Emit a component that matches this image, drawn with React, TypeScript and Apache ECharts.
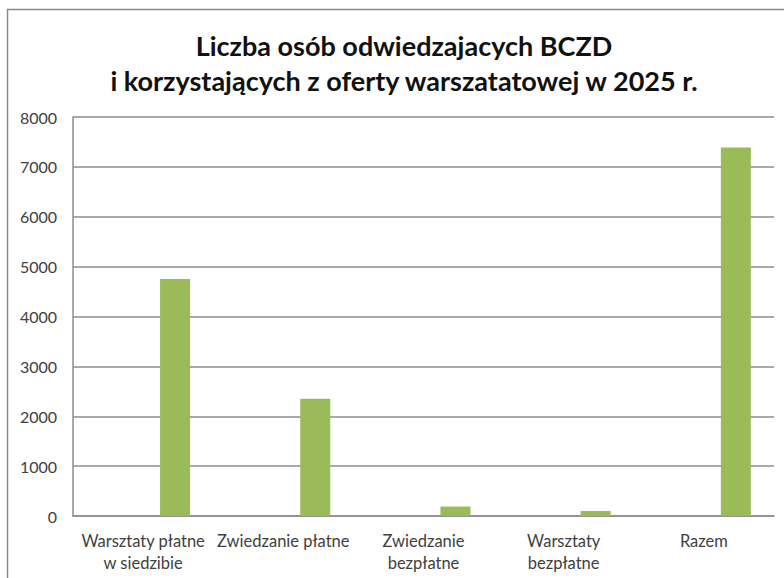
import React, { useEffect, useRef } from "react";
import * as echarts from "echarts";

const categories = [
  "Warsztaty płatne\nw siedzibie",
  "Zwiedzanie płatne",
  "Zwiedzanie\nbezpłatne",
  "Warsztaty\nbezpłatne",
  "Razem",
];
const emptySeries = ["-", "-", "-", "-", "-"];
const visitors = [4750, 2350, 190, 100, 7390];
const titleText = "Liczba osób odwiedzajacych BCZD\ni korzystających z oferty warszatatowej w 2025 r.";

export default function App() {
  const ref = useRef<HTMLDivElement>(null);
  useEffect(() => {
    document.body.style.margin = "0";
    const chart = echarts.init(ref.current!, null, { renderer: "svg" });
    chart.setOption({
      animation: false,
      backgroundColor: "#ffffff",
      textStyle: { fontFamily: "Lato" },
      graphic: [
        {
          type: "rect",
          shape: { x: 7.5, y: 9.5, width: 900, height: 700 },
          style: { fill: "none", stroke: "#8a8a8a", lineWidth: 1.5 },
          silent: true,
        },
      ],
      title: {
        text: titleText,
        left: 399,
        textAlign: "center",
        top: 23,
        textStyle: {
          fontFamily: "Lato",
          fontSize: 27,
          fontWeight: "bold",
          color: "#111111",
          lineHeight: 35,
        },
      },
      grid: { left: 73, right: 10, top: 117, bottom: 62, containLabel: false },
      xAxis: {
        type: "category",
        data: categories,
        axisLine: { show: true, lineStyle: { color: "#8c8c8c", width: 1.5 } },
        axisTick: { show: false },
        axisLabel: {
          color: "#404040",
          fontSize: 16.5,
          fontFamily: "Lato",
          lineHeight: 22,
          margin: 14,
          interval: 0,
        },
      },
      yAxis: {
        type: "value",
        min: 0,
        max: 8000,
        interval: 1000,
        axisLine: { show: true, lineStyle: { color: "#8c8c8c", width: 1.5 } },
        axisTick: { show: false },
        splitLine: { show: true, lineStyle: { color: "#8c8c8c", width: 1.5 } },
        axisLabel: {
          color: "#404040",
          fontSize: 16,
          fontFamily: "Lato",
          margin: 16,
          formatter: (v: number) => String(v),
        },
      },
      series: [
        {
          type: "bar",
          name: "empty",
          data: emptySeries,
          barWidth: 30,
          barGap: "113%",
          itemStyle: { color: "#4F81BD" },
        },
        {
          type: "bar",
          name: "Liczba osób",
          data: visitors,
          barWidth: 30,
          barGap: "113%",
          itemStyle: { color: "#9BBB59" },
        },
      ],
    });
    return () => chart.dispose();
  }, []);
  return <div ref={ref} style={{ width: 784, height: 578 }} />;
}
